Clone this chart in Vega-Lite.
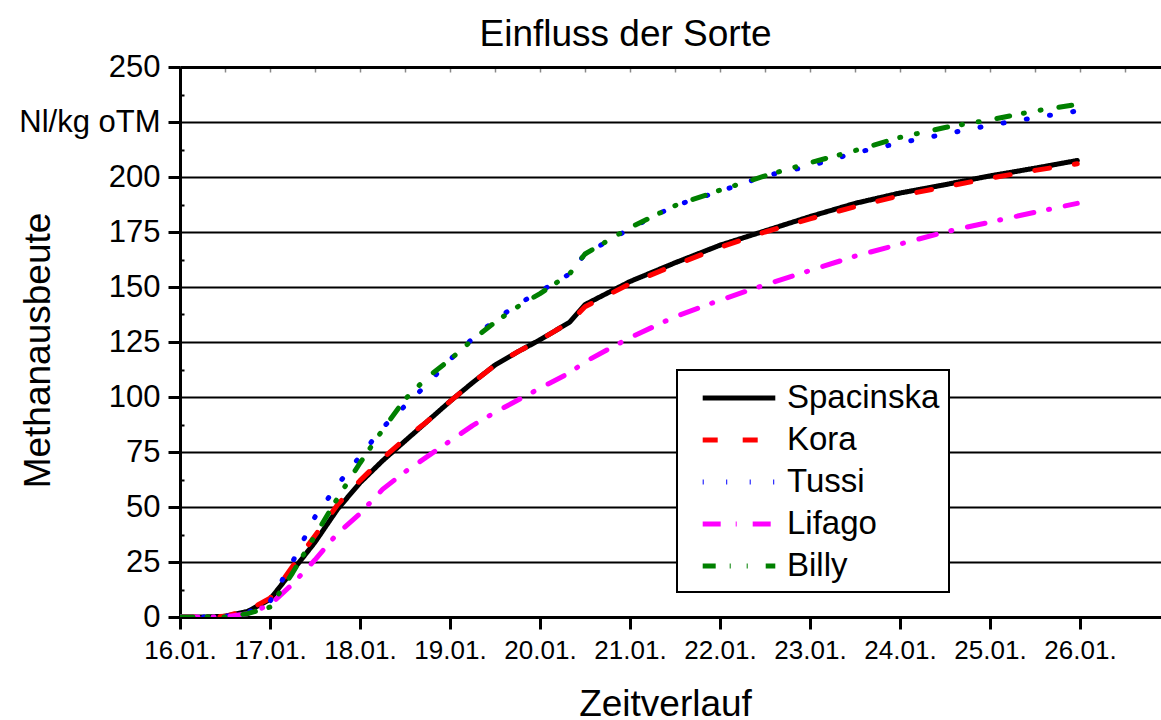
{
  "$schema": "https://vega.github.io/schema/vega-lite/v6.json",
  "width": 981,
  "height": 550,
  "autosize": {"type": "none"},
  "padding": {"left": 180, "top": 67, "right": 0, "bottom": 103},
  "background": "white",
  "config": {
    "font": "Liberation Sans",
    "view": {"stroke": null},
    "axis": {"labelColor": "black", "titleColor": "black", "titleFontWeight": "normal", "domainColor": "black", "tickColor": "black", "gridColor": "black"},
    "legend": {"strokeWidth": 2}
  },
  "title": {"text": "Einfluss der Sorte", "fontSize": 37, "fontWeight": "normal", "color": "black", "anchor": "middle", "dx": -45, "offset": -3},
  "data": {
    "values": [
      {"Tag": 16.0, "Spacinska": 0, "Kora": 0, "Tussi": 0, "Lifago": 0, "Billy": 0},
      {"Tag": 16.25, "Spacinska": 0, "Kora": 0, "Tussi": 0, "Lifago": 0, "Billy": 0},
      {"Tag": 16.5, "Spacinska": 0.3, "Kora": 0.3, "Tussi": 0.3, "Lifago": 0, "Billy": 0},
      {"Tag": 16.75, "Spacinska": 2.5, "Kora": 3, "Tussi": 2, "Lifago": 1.5, "Billy": 1.5},
      {"Tag": 17.0, "Spacinska": 8, "Kora": 8.5, "Tussi": 7, "Lifago": 5.5, "Billy": 4.5},
      {"Tag": 17.25, "Spacinska": 21, "Kora": 23, "Tussi": 25, "Lifago": 15, "Billy": 20},
      {"Tag": 17.5, "Spacinska": 34, "Kora": 37, "Tussi": 45.5, "Lifago": 26, "Billy": 37},
      {"Tag": 17.75, "Spacinska": 49, "Kora": 51, "Tussi": 60, "Lifago": 38, "Billy": 54},
      {"Tag": 18.0, "Spacinska": 61, "Kora": 62, "Tussi": 73, "Lifago": 47, "Billy": 70},
      {"Tag": 18.25, "Spacinska": 71, "Kora": 72, "Tussi": 86, "Lifago": 58, "Billy": 85},
      {"Tag": 18.5, "Spacinska": 80, "Kora": 81, "Tussi": 96, "Lifago": 66, "Billy": 99},
      {"Tag": 18.75, "Spacinska": 89, "Kora": 89, "Tussi": 106, "Lifago": 73, "Billy": 109},
      {"Tag": 19.0, "Spacinska": 98, "Kora": 98, "Tussi": 117, "Lifago": 80, "Billy": 117},
      {"Tag": 19.25, "Spacinska": 106.5, "Kora": 106.5, "Tussi": 126.5, "Lifago": 87, "Billy": 126},
      {"Tag": 19.5, "Spacinska": 114.5, "Kora": 114.5, "Tussi": 135, "Lifago": 93, "Billy": 134},
      {"Tag": 19.75, "Spacinska": 120.5, "Kora": 120.5, "Tussi": 142, "Lifago": 98.5, "Billy": 141},
      {"Tag": 20.0, "Spacinska": 126, "Kora": 126, "Tussi": 148, "Lifago": 104, "Billy": 147},
      {"Tag": 20.33, "Spacinska": 134, "Kora": 134, "Tussi": 156, "Lifago": 111, "Billy": 156},
      {"Tag": 20.5, "Spacinska": 142, "Kora": 141, "Tussi": 165, "Lifago": 116, "Billy": 165},
      {"Tag": 21.0, "Spacinska": 152.5, "Kora": 151.5, "Tussi": 176.5, "Lifago": 127, "Billy": 177},
      {"Tag": 21.5, "Spacinska": 161, "Kora": 160, "Tussi": 187, "Lifago": 136.5, "Billy": 187},
      {"Tag": 22.0, "Spacinska": 169, "Kora": 168, "Tussi": 193.5, "Lifago": 144, "Billy": 194},
      {"Tag": 22.5, "Spacinska": 175.5, "Kora": 175, "Tussi": 200.5, "Lifago": 151, "Billy": 200.5},
      {"Tag": 23.0, "Spacinska": 182, "Kora": 181, "Tussi": 205, "Lifago": 157.5, "Billy": 206.5},
      {"Tag": 23.5, "Spacinska": 188, "Kora": 186.5, "Tussi": 211, "Lifago": 164, "Billy": 212},
      {"Tag": 24.0, "Spacinska": 192.7, "Kora": 191.5, "Tussi": 215.5, "Lifago": 169.5, "Billy": 218},
      {"Tag": 24.5, "Spacinska": 196.5, "Kora": 195.5, "Tussi": 219.5, "Lifago": 175, "Billy": 222.5},
      {"Tag": 25.0, "Spacinska": 200.5, "Kora": 199.5, "Tussi": 223.5, "Lifago": 179.5, "Billy": 226},
      {"Tag": 25.5, "Spacinska": 204, "Kora": 203, "Tussi": 227, "Lifago": 184, "Billy": 230},
      {"Tag": 25.97, "Spacinska": 207.5, "Kora": 206, "Tussi": 230, "Lifago": 188, "Billy": 233}
    ]
  },
  "transform": [
    {"fold": ["Spacinska", "Kora", "Tussi", "Lifago", "Billy"], "as": ["Sorte", "Methan"]}
  ],
  "resolve": {"axis": {"x": "independent", "y": "independent"}},
  "layer": [
    {
      "mark": {"type": "line", "strokeWidth": 5, "strokeCap": "round", "strokeJoin": "round", "interpolate": "linear", "clip": true},
      "encoding": {
        "x": {
          "field": "Tag", "type": "quantitative",
          "scale": {"domain": [16, 26.9], "nice": false, "zero": false},
          "axis": {
            "orient": "bottom",
            "values": [16, 17, 18, 19, 20, 21, 22, 23, 24, 25, 26],
            "labelExpr": "datum.value + '.01.'",
            "labelFontSize": 26, "labelPadding": 8, "labelFlush": false,
            "tickSize": 12, "tickWidth": 3, "domainWidth": 3, "grid": false,
            "title": "Zeitverlauf", "titleFontSize": 37, "titleX": 485, "titleY": 98,
            "titleBaseline": "alphabetic", "titleAlign": "center"
          }
        },
        "y": {
          "field": "Methan", "type": "quantitative",
          "scale": {"domain": [0, 250], "nice": false},
          "axis": {
            "orient": "left",
            "values": [0, 25, 50, 75, 100, 125, 150, 175, 200, 225, 250],
            "labelExpr": "datum.value == 225 ? 'Nl/kg oTM' : datum.label",
            "labelFontSize": 31, "labelPadding": 8, "labelFlush": false,
            "tickSize": 12, "tickWidth": 3, "domainWidth": 3,
            "grid": true, "gridWidth": 2, "gridColor": "black",
            "title": "Methanausbeute", "titleFontSize": 37, "titleX": -131, "titleY": 283,
            "titleAngle": -90, "titleBaseline": "alphabetic", "titleAlign": "center"
          }
        },
        "color": {
          "field": "Sorte", "type": "nominal",
          "scale": {"domain": ["Spacinska", "Kora", "Tussi", "Lifago", "Billy"], "range": ["#000000", "#ff0000", "#0000ff", "#ff00ff", "#008000"]},
          "legend": {
            "title": null, "orient": "none", "legendX": 497, "legendY": 303,
            "symbolType": "M-2.2,0H2.2", "symbolSize": 1089, "symbolStrokeWidth": 5,
            "labelFontSize": 33, "labelColor": "black", "labelOffset": 29,
            "rowPadding": 6, "padding": 9, "symbolOffset": 34,
            "strokeColor": "black", "fillColor": "white", "cornerRadius": 0
          }
        },
        "strokeDash": {
          "field": "Sorte", "type": "nominal",
          "scale": {"domain": ["Spacinska", "Kora", "Tussi", "Lifago", "Billy"], "range": [[1, 0], [15, 25], [1, 22.5], [18, 15, 1, 16], [13, 14, 1, 16, 1, 18]]},
          "legend": {
            "title": null, "orient": "none", "legendX": 497, "legendY": 303,
            "symbolType": "M-2.2,0H2.2", "symbolSize": 1089, "symbolStrokeWidth": 5,
            "labelFontSize": 33, "labelColor": "black", "labelOffset": 29,
            "rowPadding": 6, "padding": 9, "symbolOffset": 34,
            "strokeColor": "black", "fillColor": "white", "cornerRadius": 0
          }
        }
      }
    },
    {
      "mark": {"type": "point", "opacity": 0},
      "encoding": {
        "x": {
          "field": "Tag", "type": "quantitative",
          "axis": {
            "orient": "top",
            "values": [16.5, 17, 17.5, 18, 18.5, 19, 19.5, 20, 20.5, 21, 21.5, 22, 22.5, 23, 23.5, 24, 24.5, 25, 25.5, 26, 26.5],
            "labels": false, "tickSize": -5, "tickWidth": 1.5, "tickColor": "#888888",
            "domainWidth": 3, "grid": false, "title": null
          }
        },
        "y": {
          "field": "Methan", "type": "quantitative",
          "axis": {
            "orient": "left",
            "values": [12.5, 37.5, 62.5, 87.5, 112.5, 137.5, 162.5, 187.5, 212.5, 237.5],
            "labels": false, "tickSize": -4, "tickWidth": 2, "domain": false, "grid": false, "title": null
          }
        }
      }
    }
  ]
}
